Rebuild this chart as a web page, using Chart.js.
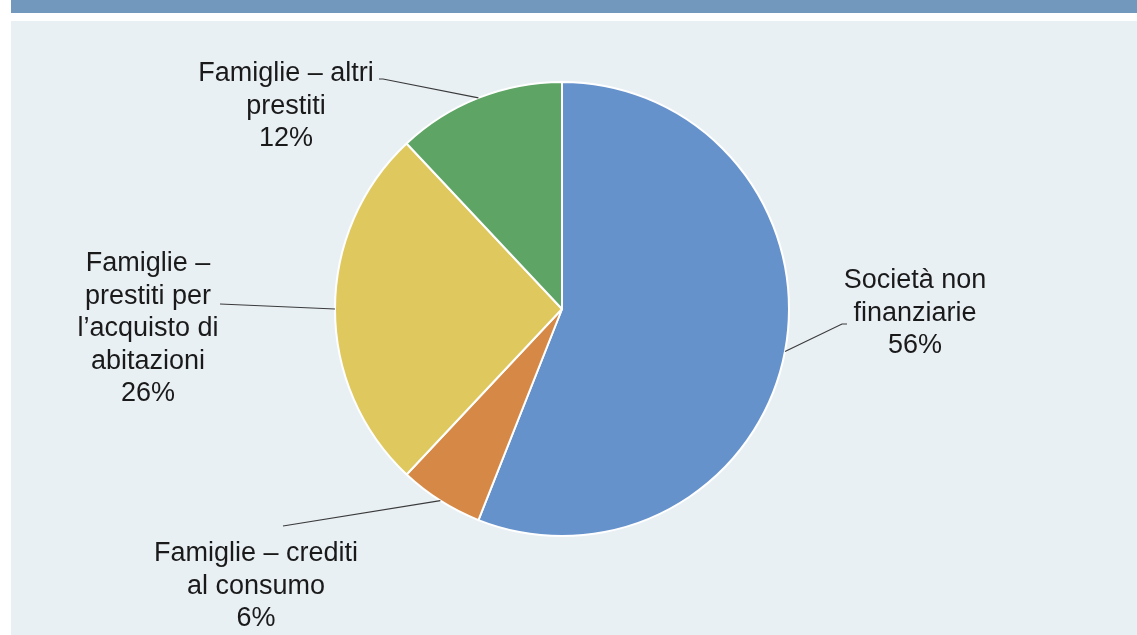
<!DOCTYPE html>
<html lang="it">
<head>
<meta charset="UTF-8">
<title>Prestiti per controparte</title>
<script src="https://cdn.jsdelivr.net/npm/chart.js"></script>
<style>
    body {
        margin: 0;
        padding: 0;
        background: #ffffff;
        width: 1137px;
        height: 635px;
        overflow: hidden;
        position: relative;
        font-family: 'Liberation Sans', Arial, sans-serif;
    }
    #header-bar {
        position: absolute;
        left: 11px;
        top: 0;
        width: 1126px;
        height: 13px;
        background: #7398be;
    }
    #panel {
        position: absolute;
        left: 11px;
        top: 21px;
        width: 1126px;
        height: 614px;
        background: #e9f0f4;
    }
</style>
</head>
<body>
<div id="header-bar"></div>
<div id="panel">
    <canvas id="pieChart" width="1126" height="614"></canvas>
</div>

<script>
// categories (one entry per line of the label) and shares in %
const categories = [
    ['Società non', 'finanziarie'],
    ['Famiglie – crediti', 'al consumo'],
    ['Famiglie –', 'prestiti per', 'l\u2019acquisto di', 'abitazioni'],
    ['Famiglie – altri', 'prestiti']
];
const shares = [56, 6, 26, 12];
const sliceColors = ['#6692cc', '#d68946', '#dfc95e', '#5da465'];

// where each label sits, relative to the pie centre (text x, first line y, leader end)
const labelLayout = [
    { tx: 353, ty: -28, leader: [[280, 15], [285, 15]] },
    { tx: -306, ty: 245, leader: [[-279, 217]] },
    { tx: -414, ty: -45, leader: [[-342, -5]] },
    { tx: -276, ty: -235, leader: [[-179, -230], [-183, -230]] }
];

const pieLabels = {
    id: 'pieLabels',
    afterDatasetsDraw(chart) {
        const ctx = chart.ctx;
        const meta = chart.getDatasetMeta(0);
        ctx.save();
        meta.data.forEach((arc, i) => {
            const p = arc.getProps(['x', 'y', 'startAngle', 'endAngle', 'outerRadius'], true);
            const mid = (p.startAngle + p.endAngle) / 2;
            const ax = p.x + Math.cos(mid) * p.outerRadius;
            const ay = p.y + Math.sin(mid) * p.outerRadius;
            const lay = labelLayout[i];

            // leader line
            ctx.strokeStyle = '#3a3a3a';
            ctx.lineWidth = 1.2;
            ctx.beginPath();
            ctx.moveTo(ax, ay);
            lay.leader.forEach(pt => ctx.lineTo(p.x + pt[0], p.y + pt[1]));
            ctx.stroke();

            // text
            const lines = chart.data.labels[i].concat([shares[i] + '%']);
            ctx.fillStyle = '#1a1a1a';
            ctx.font = '27px "Liberation Sans", Arial, sans-serif';
            ctx.textAlign = 'center';
            ctx.textBaseline = 'middle';
            lines.forEach((t, k) => {
                ctx.fillText(t, p.x + lay.tx, p.y + lay.ty + k * 32.5);
            });
        });
        ctx.restore();
    }
};

new Chart(document.getElementById('pieChart'), {
    type: 'pie',
    data: {
        labels: categories,
        datasets: [{
            data: shares,
            backgroundColor: sliceColors,
            borderColor: '#ffffff',
            borderWidth: 2
        }]
    },
    options: {
        responsive: false,
        animation: false,
        radius: 227,
        layout: { padding: { left: 0, right: 24, top: 62, bottom: 100 } },
        plugins: {
            legend: { display: false },
            tooltip: { enabled: false }
        }
    },
    plugins: [pieLabels]
});
</script>
</body>
</html>
